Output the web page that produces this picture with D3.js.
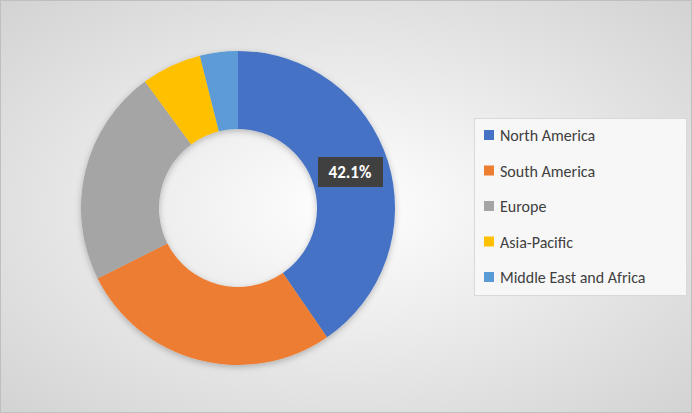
<!DOCTYPE html>
<html><head><meta charset="utf-8">
<script src="https://cdn.jsdelivr.net/npm/d3@7"></script>
<style>body{margin:0;}svg{display:block;}</style>
</head><body><div id="plot"></div>
<script>
const regions = ["North America", "South America", "Europe", "Asia-Pacific", "Middle East and Africa"];
const shares = [40.4, 27.2, 22.3, 6.2, 3.9];
const labels = ["42.1%"];
const colors = ["#4472c4", "#ed7d31", "#a5a5a5", "#ffc000", "#5b9bd5"];

const width = 692, height = 413;
const svg = d3.select("#plot").append("svg").attr("width", width).attr("height", height);

const defs = svg.append("defs");
const grad = defs.append("radialGradient").attr("id", "bg")
  .attr("cx", "50%").attr("cy", "50%").attr("r", "75%");
grad.append("stop").attr("offset", "0%").attr("stop-color", "#ffffff");
grad.append("stop").attr("offset", "100%").attr("stop-color", "#d0d0d0");
const sh = defs.append("filter").attr("id", "sh").attr("x", "-20%").attr("y", "-20%").attr("width", "140%").attr("height", "140%");
sh.append("feDropShadow").attr("dx", 0).attr("dy", 2).attr("stdDeviation", 3).attr("flood-color", "#000").attr("flood-opacity", 0.25);

svg.append("rect").attr("x", 0.5).attr("y", 0.5).attr("width", width - 1).attr("height", height - 1)
  .attr("fill", "url(#bg)").attr("stroke", "#bfbfbf");

const cx = 238, cy = 208, outer = 157, inner = 79;
const pie = d3.pie().sort(null).value(d => d);
const arc = d3.arc().innerRadius(inner).outerRadius(outer);
const arcs = pie(shares);

const g = svg.append("g").attr("transform", `translate(${cx},${cy})`).attr("filter", "url(#sh)");
g.selectAll("path").data(arcs).enter().append("path")
  .attr("d", arc).attr("fill", (d, i) => colors[i]);

// label on first slice
const lx = 350, ly = 172;
svg.append("rect").attr("x", lx - 32).attr("y", ly - 15).attr("width", 65).attr("height", 30)
  .attr("fill", "#404040");
svg.append("text").attr("x", lx).attr("y", ly + 6).attr("text-anchor", "middle")
  .attr("font-family", "Calibri, Carlito, 'Liberation Sans', sans-serif").attr("font-size", 17)
  .attr("font-weight", "bold").attr("fill", "#ffffff").text(labels[0]);

// legend
const legend = svg.append("g");
legend.append("rect").attr("x", 474.5).attr("y", 118.5).attr("width", 212).attr("height", 177)
  .attr("fill", "#f7f7f7").attr("stroke", "#d9d9d9");
const ly0 = 135, step = 35.5;
regions.forEach((r, i) => {
  legend.append("rect").attr("x", 484).attr("y", ly0 + i * step - 5).attr("width", 10).attr("height", 10)
    .attr("fill", colors[i]);
  legend.append("text").attr("x", 500).attr("y", ly0 + i * step + 6)
    .attr("font-family", "Calibri, Carlito, 'Liberation Sans', sans-serif").attr("font-size", 16)
    .attr("fill", "#404040").text(r);
});
</script></body></html>
